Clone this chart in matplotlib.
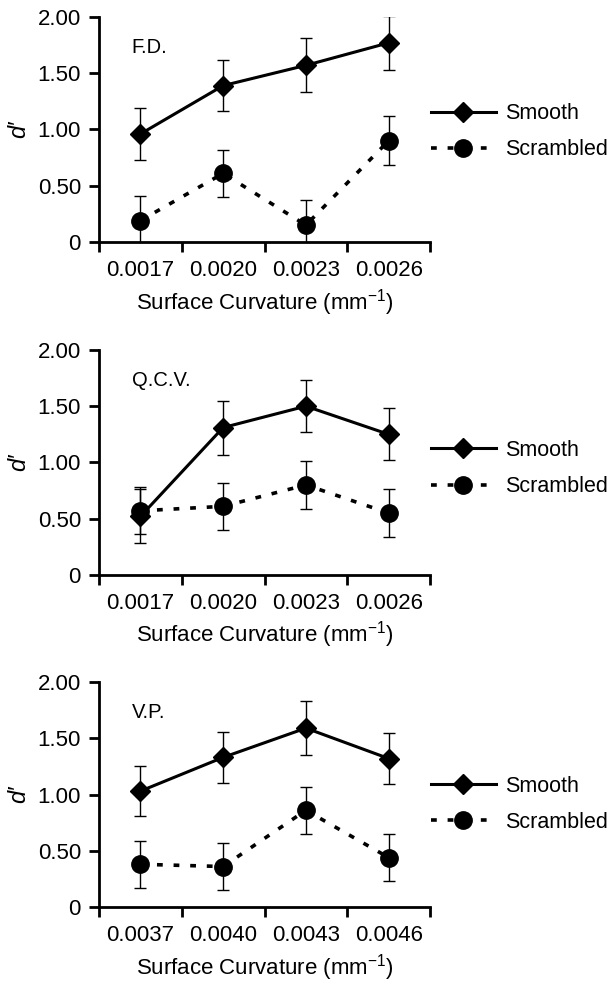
import matplotlib
matplotlib.use('Agg')
import matplotlib.pyplot as plt
import numpy as np

plt.rcParams['font.family'] = ['Liberation Sans', 'DejaVu Sans']
plt.rcParams['mathtext.fontset'] = 'custom'
plt.rcParams['mathtext.rm'] = 'Liberation Sans'
plt.rcParams['mathtext.it'] = 'Liberation Sans:italic'

# data (observer, x categories, d' +/- error)
observers = ['F.D.', 'Q.C.V.', 'V.P.']
curv_low = ['0.0017', '0.0020', '0.0023', '0.0026']
curv_high = ['0.0037', '0.0040', '0.0043', '0.0046']
tick_sets = [curv_low, curv_low, curv_high]

smooth_fd = [0.96, 1.39, 1.57, 1.77]
smooth_fd_err = [0.23, 0.23, 0.24, 0.24]
scram_fd = [0.19, 0.61, 0.15, 0.90]
scram_fd_err = [0.22, 0.21, 0.22, 0.22]

smooth_qcv = [0.52, 1.31, 1.50, 1.25]
smooth_qcv_err = [0.24, 0.24, 0.23, 0.23]
scram_qcv = [0.57, 0.61, 0.80, 0.55]
scram_qcv_err = [0.21, 0.21, 0.21, 0.21]

smooth_vp = [1.03, 1.33, 1.59, 1.32]
smooth_vp_err = [0.22, 0.23, 0.24, 0.23]
scram_vp = [0.38, 0.36, 0.86, 0.44]
scram_vp_err = [0.21, 0.21, 0.21, 0.21]

smooth = [smooth_fd, smooth_qcv, smooth_vp]
smooth_err = [smooth_fd_err, smooth_qcv_err, smooth_vp_err]
scram = [scram_fd, scram_qcv, scram_vp]
scram_err = [scram_fd_err, scram_qcv_err, scram_vp_err]

fig = plt.figure(figsize=(6.13, 9.81), dpi=100)

# axes rectangles (left, bottom, width, height) in figure fraction
rects = [[0.1615, 0.7533, 0.540, 0.2294],
         [0.1615, 0.4139, 0.540, 0.2294],
         [0.1615, 0.0754, 0.540, 0.2294]]
legend_y = [0.49, 0.473, 0.456]

FS = 16

for i in range(3):
    ax = fig.add_axes(rects[i])
    x = np.arange(4)
    c1 = ax.errorbar(x, smooth[i], yerr=smooth_err[i], color='black', lw=2.2,
                     marker='D', markersize=10, capsize=4.5, elinewidth=1,
                     capthick=1, label='Smooth', zorder=3)
    c2 = ax.errorbar(x, scram[i], yerr=scram_err[i], color='black', lw=2.6,
                     linestyle=(0, (1.6, 3.0)), marker='o', markersize=12.5,
                     capsize=4.5, elinewidth=1, capthick=1, label='Scrambled',
                     zorder=3)

    ax.set_xlim(-0.5, 3.5)
    ax.set_ylim(0, 2.0)
    ax.set_yticks([0, 0.5, 1.0, 1.5, 2.0])
    ax.set_yticklabels(['0', '0.50', '1.00', '1.50', '2.00'])
    ax.set_xticks(np.arange(-0.5, 4, 1.0))
    ax.set_xticklabels([])
    ax.set_xticks(x, minor=True)
    ax.set_xticklabels(tick_sets[i], minor=True)
    ax.tick_params(axis='x', which='minor', length=0, pad=13, labelsize=FS)
    ax.tick_params(axis='x', which='major', direction='out', length=7, width=2)
    ax.tick_params(axis='y', direction='out', length=7, width=2, labelsize=FS, pad=6)

    ax.spines['top'].set_visible(False)
    ax.spines['right'].set_visible(False)
    ax.spines['left'].set_linewidth(2)
    ax.spines['bottom'].set_linewidth(2)

    ax.set_xlabel('Surface Curvature (mm$^{-1}$)', fontsize=16, labelpad=4)
    ax.set_ylabel("d\u2032", fontsize=17, style='italic', labelpad=5)
    ax.text(0.099, 0.864, observers[i], transform=ax.transAxes, fontsize=14.5,
            va='center', ha='left')

    ax.legend(handles=[c1[0], c2[0]], labels=['Smooth', 'Scrambled'],
              loc='center left', bbox_to_anchor=(1.003, legend_y[i]),
              frameon=False, fontsize=15.5, handlelength=3.0,
              labelspacing=0.7, handletextpad=0.45, borderpad=0,
              borderaxespad=0)

fig.savefig('out.png', dpi=100)
